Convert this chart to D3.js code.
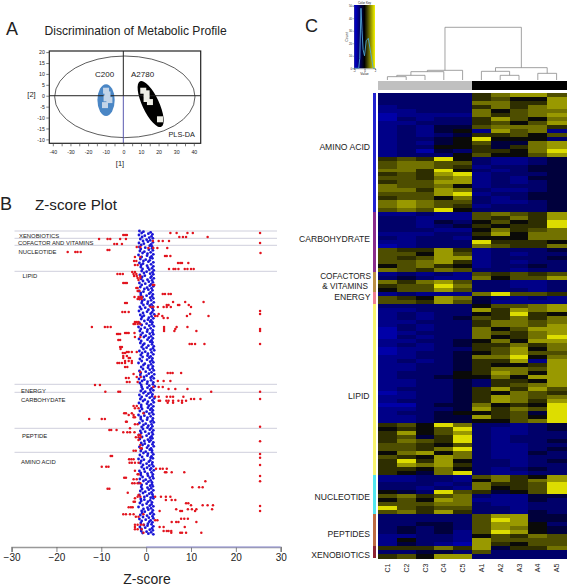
<!DOCTYPE html>
<html>
<head>
<meta charset="utf-8">
<script src="https://cdn.jsdelivr.net/npm/d3@7/dist/d3.min.js"></script>
<style>
html,body{margin:0;padding:0;background:#fff}
svg{display:block}
text{font-family:"Liberation Sans",Arial,sans-serif;fill:#222}
</style>
</head>
<body>
<div id="chart"></div>
<script>
// ---------- Panel A : PLS-DA scores
const plsXTicks = [-40,-30,-20,-10,0,10,20,30,40];
const plsYTicks = [20,15,10,5,0,-5,-10,-15,-20];
const plsYLabels = ["20","15","10","5","0","-5","-10","-15","-10"];
const hotelling = {x:0.85, y:-0.5, rx:39.8, ry:18.7};
const c200Ellipse = {x:-9.8, y:-2, rx:4.9, ry:7.3};
const a2780Ellipse = {x:15.5, y:-3.8, rx:4.75, ry:11.5, tilt:-25};
const c200Scores = [[-9.8,2.3],[-9,0.6],[-7.9,-2],[-10.4,-4.3],[-9.5,-1.2]];
const a2780Scores = [[11.3,2.3],[13.2,1.1],[13.2,-1.5],[15.1,-2.9],[20.8,-10.8]];

// ---------- Panel B : Z-scores  ([rank, z values])
const zTicks = [-30,-20,-10,0,10,20,30];
const zSeparators = [0,7.3,14.3,40.3,153.3,161.3,197.3,221.3];
const zClassLabels = ["XENOBIOTICS","COFACTOR AND VITAMINS","NUCLEOTIDE","LIPID","ENERGY","CARBOHYDATE","PEPTIDE","AMINO ACID"];
const redPoints = [
[2,[5.4,6.8,9.2,10.4,25.4]],[4,[-5.1,-4.7,-4.3]],[6,[7.4,8.2,8.9,13.7]],[8,[-10.5,-8.6,-8,-5.8,-4.5]],[10,[1.5,2.8,3.7,5.1]],[12,[25.4]],
[13,[-7.1,-6.5,-5.4]],[16,[-2.1,-1.3]],[17,[.5,1.6,2.5,4.7]],[19,[-8.6,-8.2]],[21,[-17.5,-15.8,-15.3,-14.6]],[22,[25.5]],[25,[4.2,4.6,5.4]],
[26,[-2.5,-1.3]],[30,[-2.7,-2.2]],[32,[7.1,7.6,8,9.4]],[34,[-2.5,-1.9]],[38,[5.1,6.1,6.5,7.2,8.6,9.2,10,10.6]],[41,[-3.1,-2.5]],
[43,[-6.4,-5.8,-5.2,-2.8,-2.2]],[45,[-2.7,-2.1,-1.3]],[47,[-1.9,-1.3]],[49,[-1.7]],[52,[-5.1,-4.7,-4.3]],[54,[1.5,1.8]],[57,[-2.2,-1.9]],
[60,[-1.9,-1.5]],[63,[3.7,4.2,5,5.5]],[66,[-2.6,-1.7,-1.3,-1]],[68,[-1.9,-1.5,-1]],[71,[6,8.7,12.8]],[72,[-4.7,-4.3]],[74,[4.6,5,7.1,7.4,9.5]],
[76,[1,1.6,2.6,3.9,4.6,5.5,10]],[80,[25.4]],[81,[-5.3,-4.7,-3.9]],[83,[2.8,9.8,25.4]],[85,[2,2.5,3.6,9.1,13.9]],[87,[3.9,4.8]],[91,[-2.5,-2.1,-1.7]],
[93,[-2.8,-2.5,-1.9,-1.3]],[96,[-12.1,-9.2,-8.6,-7.9,4,6.8,9.2]],[98,[4,6.5,25.4]],[100,[4,6.3,11.2,25.4]],[102,[-4.7,-4.3,-3.9,-2.6]],
[103,[-6.5,-6.2,-5.8]],[106,[-2.5,-1.3]],[109,[-5.8,-6.2]],[113,[9.7,10.2,10.9,13,25.4]],[116,[-5.8,-5.4]],[118,[-5.7]],[121,[-4.3,-3.9,-3.2,-2.1]],
[122,[-4.7,-5.2]],[125,[-5.1,-4.3]],[127,[-5.1,-3.9,-3.6]],[130,[-4.7,-3.9,-3.2]],[132,[-6.4,-6,-5.4,-4.7,-3.2]],[136,[-4.7,-4.2]],[141,[-1.3]],
[142,[4.8,5.4,5.9,7.8]],[143,[-2.8]],[146,[-2.1,-1.2]],[147,[-4.5,-3.9]],[150,[2.6,3.9,5.4]],[151,[-4.3,-3.7,-1.9]],[154,[-11.4,-10.3]],
[156,[1.6,2.8,3.7]],[158,[5,6.5,9.2]],[160.7,[-9.1,-6.2,-5.8,14.5,25.4]],[165.7,[2,2.8,4.6,5.4,6,8.3]],[168,[10,10.7,12.1,25.4]],
[169.7,[2.8,3.1,4.5,5,6,7.2,8,8.9]],[171.7,[4.8,6,8]],[175,[-2.8,-2.1]],[177.3,[-2.5,-1.7]],[182.3,[-4.9,-4.5,-3.2,-.6]],[184,[-3.9,-2.8]],
[186.3,[-2.8,-2.5]],[188,[-12.7,-9.9,-9.2]],[190.7,[-4.3,-4.5]],[193.3,[-2.5,-1.9]],[195.7,[25.4]],[197.3,[-3.6]],[199,[-8.2,-7.8,-6.6]],
[201.3,[-5.1,-4.2,-3.6,-2.6]],[204,[-1.7,-1.3]],[206.3,[-2.3,-1.7,-1.2]],[209,[-1.7]],[210.3,[25.4]],[214,[-1.3]],[217.3,[-1.3,-1]],[219.7,[-2.8,-2.3]],
[223,[25.4]],[225,[-7.9,-7.6]],[226.7,[25.4]],[228.3,[-3.8,-3.3,-2.8]],[231.7,[-3.7,-3.2,-2.5,-1.7]],[234,[25.4]],[235.7,[-9.9,-8.9,-8.4]],
[237.7,[2.2,3.1,3.7,4.6]],[239.7,[-2.5]],[241.3,[4.2,4.5,5.7,8.5]],[243.3,[-1.9,-1.7]],[245,[25.4]],[246.7,[-4.9,-4.5]],[248.3,[-2.8,-2.1]],
[250.3,[13.2,25.4]],[252.3,[-3.1,-2.6,-1.9,-1.3]],[256.3,[10.3,11.8,12.6]],[257.7,[-8.6,-8.2]],[261.7,[-4.1]],[264,[-1.7]],[265.7,[-1.9,-1.3,2,3.3,4.4,5.4]],
[267.3,[-2.5]],[269,[4.4,5.7,6.5]],[270.7,[-2.8,-2.5]],[272.3,[8.9,9.4]],[274.3,[10,12.6,13.7,14.9]],[275,[25.4]],[276.3,[-3.9,-3.4,-3]],
[278.3,[6.7,9.3,10.2,11.2,14.7]],[280,[3,7.6,8,10.9,25.4]],[283.3,[-5.1,-4.5,-3.6,-2.8,-.6]],[285.7,[-2.3,-1.7]],[287.7,[7.8,8.5,9.3]],[289.3,[2,2.5]],
[291,[5.7,6.7,7.2,11.2]],[293.7,[-2.5,-1.9,-1.2,-.6]],[296,[-2.5,3,3.9,8.6]],[298.3,[-2.5,-1.9,-1]],[300,[3.9,4.6,5,5.6]],[301.7,[-.6,5.6,7.6,8,8.9,12.3]]
];
// control-group metabolites, one row every 4 ranks
const blueRows = [
[-1.5,-1,-.6,.5,1,1.4],[-1.6,-.9,-.3,.7,1.2,1.5],[-1.3,-.7,.1,.4,.9,1.5],[-1.6,-1.1,-.5,.8,1.1,1.3],[-1.5,-1.2,-.2,.6,1.3,1.5],[-1.4,-.8,-.4,.3,1,1.6],
[-1.7,-1,.2,.9,1.2,1.4],[-1.3,-.6,-.1,.5,.8,1.6],[-1.5,-1.1,-.7,.2,1.1,1.6],[-1.2,-.8,.4,.7,1.3,1.7],[-1,-.5,.1,.9,1.4,1.6],[-1.4,-.9,-.3,1,1.2,1.7],
[-1.1,-.7,.3,.6,1.3,1.5],[-1.5,-1,-.2,.8,1.1,1.6],[-1.3,-.4,.2,.5,1.2,1.4],[-1.6,-1.2,-.6,.7,1,1.5],[-1.2,-.8,.1,.9,1.3,1.6],[-1.5,-.9,-.4,.4,1.1,1.7],
[-1,-.6,.3,.8,1.2,1.5],[-1.4,-1.1,-.2,.5,1.4,1.6],[-1.6,-.7,.2,1,1.3,1.8],[-1.3,-.9,-.5,.6,1.2,1.6],[-1.1,-.4,.4,.9,1.1,1.4],[-1.5,-1,.1,.7,1.3,1.7],
[-1.7,-1.2,-.3,.3,1,1.5],[-1.4,-.8,.2,.8,1.4,1.6],[-1.2,-.5,-.1,.6,1.1,1.5],[-1.6,-1.1,.3,.9,1.2,1.4],[-1.3,-.7,-.4,.5,1.3,1.7],[-1,-.6,.1,1,1.5,1.8],
[-1.5,-.9,-.2,.4,1.2,1.6],[-1.2,-.8,.3,.7,1,1.4],[-1.4,-1,.2,.9,1.3,1.6],[-1.7,-.6,-.3,.5,1.1,1.5],[-1.1,-.7,.4,.8,1.4,1.7],[-1.5,-1.2,-.1,.6,1.2,1.8],
[-1.3,-.5,.1,1,1.3,1.7],[-1.6,-.9,-.4,.3,1.1,1.6],[-1.4,-1.1,.2,.7,1.5,1.9],[-1,-.8,.3,.9,1.2,1.6],[-1.2,-.6,-.2,.5,1,1.4],[-1.5,-1,.1,.8,1.3,1.8],
[-1.3,-.7,-.3,.4,1.4,1.7],[-1.6,-1.1,.2,.6,1.1,1.6],[-1.1,-.9,.4,.9,1.2,1.5],[-1.4,-.5,.1,.7,1.3,1.6],[-1.7,-1.2,-.4,.3,1,1.5],[-1.2,-.8,.2,1,1.4,1.7],
[-1.5,-.6,-.1,.5,1.2,1.4],[-1,-.7,.3,.8,1.1,1.6],[-1.3,-1.1,-.2,.6,1.3,1.5],[-1.6,-.9,.1,.9,1.2,1.4],[-1.4,-.4,.4,.7,1,1.6],[-1.1,-.8,-.3,.5,1.4,1.7],
[-1.5,-1,.2,.8,1.1,1.3],[-1.2,-.6,-.1,.4,1.3,1.6],[-1.4,-.9,.3,1,1.2,1.5],[-1.7,-1.1,-.5,.6,.9,1.4],[-1.3,-.7,.1,.7,1.3,1.6],[-1,-.5,.2,.9,1.1,1.7],
[-1.5,-1.2,-.3,.3,1.2,1.5],[-1.2,-.8,.4,.8,1.4,1.6],[-1.4,-.6,-.1,.5,1,1.3],[-1.6,-1,.1,.9,1.3,1.5],[-1.1,-.9,.3,.6,1.1,1.6],[-1.3,-.7,-.2,.7,1.2,1.4],
[-1.5,-.4,.2,1,1.5,1.6],[-1.2,-1.1,-.4,.4,.9,1.3],[-1.4,-.8,.1,.8,1.2,1.6],[-1.7,-.6,.3,.5,1.1,1.5],[-1,-.9,-.3,.9,1.3,1.7],[-1.3,-.7,.2,.6,1.4,1.6],
[-1.5,-1,-.1,.7,1,1.4],[-1.2,-.5,.4,.3,1.2,1.6],[-1.4,-1.1,-.2,.8,1.3,1.5],[-1.1,-.8,.1,.5,1.1,1.6]
];

// ---------- Panel C : heat map (0 blue, 4 black, 9 yellow; C1..C5 A1..A5)
const heatColumns = ["C1","C2","C3","C4","C5","A1","A2","A3","A4","A5"];
const aminoRows = ["2222257886","2222256448","2222277558","1222257578","1122274677",
"0111175678","0212258647","1122256468","1213367775","1213418671","1212355646","1223494442","1213463378","1224453578","1203255479",
"1222464468","5659421123","6776621123","6776512233","7759421233","5658912223","6657812133","5668812123","7667412223",
"7758721123","6668912233","5664721233","7876621123","7876512223","6769422223"];
const carbRows = ["1121167658","2211165758","2213246459","2212354559","2221147567",
"1112258477","2122144477","1122295554","0122276557","6558512223","6648612122","6568812223","6678512122","4675412232","7657622122"];
const cofRows = ["1212165656","2321174668","7578622112","5669722112","4668622212"];
const energyRows = ["1211179665","6548732121","6658631111"];
const lipidRows = ["2222246678","1122285878","1212245954","1212365757","1122257767",
"1212257768","0212274688","0122276578","0212274579","1122347488","1212355757","0112256847","0122346866","1122377947","1212355818",
"1122354458","1122357768","1222458748","1223447488","1122325548","1122325678","1222358586","0122354765","1122358767","1222358758",
"0023374549","1122385769","1223445639","1123385649","1123344679",
"5649722123","4546921123","5846821122","5635921222","5765921223","6654621122","6657921123","4784721132","6548721122","5958422123",
"5878522122","5547421232","5437921122"];
const nucRows = ["1122167548","1122147578","2221275569","2212174569","4329653469",
"6756721133","4648711132","6667721122","9656622122","6758522132"];
const pepRows = ["2222268833","2222269833","2233268842","2323268743","2323169843","1122146576","1422186666","1321085466"];
const xenoRows = ["5557583557","2233262222","5648822222"];
const heatGroups = [
 {name:"amino", rows:aminoRows, color:"#2222d0"},
 {name:"carb", rows:carbRows, color:"#8a2c8c"},
 {name:"cof", rows:cofRows, color:"#bb8f45"},
 {name:"energy", rows:energyRows, color:"#ef7f90"},
 {name:"lipid", rows:lipidRows, color:"#f9f46c"},
 {name:"nuc", rows:nucRows, color:"#52e6ef"},
 {name:"pep", rows:pepRows, color:"#bd6b42"},
 {name:"xeno", rows:xenoRows, color:"#8e2333"}
];
const heatTree = {h:158, children:[
 {h:29, children:[
  {h:25, children:[
   {h:14, children:[
    {h:10, children:[{name:"C1",h:0},{name:"C2",h:0}]},
    {name:"C3",h:0}]},
   {name:"C4",h:0}]},
  {name:"C5",h:0}]},
 {h:37, children:[
  {h:26, children:[{name:"A1",h:0},{h:14, children:[{name:"A2",h:0},{name:"A3",h:0}]}]},
  {h:20, children:[{name:"A4",h:0},{name:"A5",h:0}]}]}
]};
const keyHistogram = [[-2,0],[-1.1,0],[-.9,8],[-.67,48],[-.47,30],[-.27,15],[0,10],[.33,22],[.73,24],[1.2,12],[1.67,0],[2,0]];
const keyValueTicks = [-2,0,2];
const keyCountTicks = [0,10,20,30,40,50];

// ---------- drawing
const svg = d3.select("#chart").append("svg").attr("width",567).attr("height",587);
const txt = (s,x,y,size,anchor="start",g=svg)=>g.append("text").attr("x",x).attr("y",y).attr("font-size",size).attr("text-anchor",anchor).text(s);

// Panel A
txt("A",6,35,18);
txt("Discrimination of Metabolic Profile",44.5,35,12.1);
const ax = d3.scaleLinear().domain([-42,43.9]).range([49.3,200.7]);
const ay = d3.scaleLinear().domain([20.5,-21.8]).range([51,143.3]);
const a = svg.append("g");
a.append("ellipse").attr("cx",ax(c200Ellipse.x)).attr("cy",ay(c200Ellipse.y))
 .attr("rx",ax(c200Ellipse.rx)-ax(0)).attr("ry",ay(0)-ay(c200Ellipse.ry)).attr("fill","#4a86c5");
a.append("ellipse").attr("cx",0).attr("cy",0)
 .attr("rx",ax(a2780Ellipse.rx)-ax(0)).attr("ry",ay(0)-ay(a2780Ellipse.ry)).attr("fill","#000")
 .attr("transform",`translate(${ax(a2780Ellipse.x)},${ay(a2780Ellipse.y)}) rotate(${a2780Ellipse.tilt})`);
a.append("ellipse").attr("cx",ax(hotelling.x)).attr("cy",ay(hotelling.y))
 .attr("rx",ax(hotelling.rx)-ax(0)).attr("ry",ay(0)-ay(hotelling.ry)).attr("fill","none").attr("stroke","#333").attr("stroke-width",.8);
a.append("line").attr("x1",ax(0)).attr("x2",ax(0)).attr("y1",51).attr("y2",ay(0)).attr("stroke","#222");
a.append("line").attr("x1",ax(0)).attr("x2",ax(0)).attr("y1",ay(0)).attr("y2",143).attr("stroke","#5a5ab0");
a.append("line").attr("x1",49).attr("x2",201).attr("y1",ay(0)).attr("y2",ay(0)).attr("stroke","#222");
a.selectAll(".c").data(c200Scores).join("rect").attr("width",6).attr("height",6).attr("fill","#c3d4e8")
 .attr("x",d=>ax(d[0])-3).attr("y",d=>ay(d[1])-3);
a.selectAll(".a").data(a2780Scores).join("rect").attr("width",6).attr("height",6).attr("fill","#eeeee6")
 .attr("x",d=>ax(d[0])-3).attr("y",d=>ay(d[1])-3);
a.append("rect").attr("x",49.3).attr("y",51).attr("width",151.4).attr("height",92.3).attr("fill","none").attr("stroke","#222").attr("stroke-width",1.2);
const axb = a.append("g").attr("transform","translate(0,143.3)")
 .call(d3.axisBottom(ax).tickValues(d3.range(-40,41,5)).tickSize(3).tickPadding(4).tickFormat(d=>plsXTicks.includes(d)?d:""));
const ayl = a.append("g").attr("transform","translate(49.3,0)")
 .call(d3.axisLeft(ay).tickValues(plsYTicks).tickSize(3).tickPadding(1.5).tickFormat((d,i)=>plsYLabels[i]));
[axb,ayl].forEach(g=>{g.select(".domain").remove();g.selectAll("text").attr("font-size",5.2).attr("fill","#333");g.selectAll("line").attr("stroke","#444").attr("stroke-width",.7);});
txt("C200",95,77,8,"start");
txt("A2780",131,77,8,"start");
txt("PLS-DA",168.5,137,7.3,"start");
txt("[1]",120,165.5,7.5,"middle");
txt("[2]",31.5,97,7.5,"middle");

// Panel B
txt("B",0,210,18);
txt("Z-score Plot",35,210,15.2);
const zx = d3.scaleLinear().domain([-30,30]).range([11.6,280.7]);
const zy = d3.scaleLinear().domain([0,305]).range([231,536]);
const b = svg.append("g");
b.selectAll(".sep").data(zSeparators).join("line").attr("x1",14.5).attr("x2",277)
 .attr("y1",d=>zy(d)).attr("y2",d=>zy(d)).attr("stroke","#cfcfdc").attr("stroke-width",1);
const zLabelPos = [[19,237.5],[18,244.5],[18.5,253.5],[22.5,278],[21,392.5],[21,401.5],[22,438],[21,463.5]];
zClassLabels.forEach((s,i)=>txt(s,zLabelPos[i][0],zLabelPos[i][1],5.9,"start",b));
const spread = [0,3,1,4,2,5];
b.append("g").selectAll("circle").data(blueRows.flatMap((row,i)=>row.map((z,j)=>[i*4+spread[j]*.66,z]))).join("circle")
 .attr("cx",d=>zx(d[1])).attr("cy",d=>zy(d[0])).attr("r",1.4).attr("fill","#1a16d6");
b.append("g").selectAll("circle").data(redPoints.flatMap(([r,zs])=>zs.map(z=>[r,z]))).join("circle")
 .attr("cx",d=>zx(d[1])).attr("cy",d=>zy(d[0])).attr("r",1.25).attr("fill","#e2141e");
const zAxis = b.append("g").attr("transform","translate(0,547)")
 .call(d3.axisBottom(zx).tickValues(zTicks).tickSize(5).tickPadding(2).tickFormat(d=>d<0?"\u2212"+(-d):d));
zAxis.select(".domain").attr("stroke","#999").attr("stroke-width",1.6);
zAxis.selectAll("line").attr("stroke","#666").attr("stroke-width",.8);
zAxis.selectAll("text").attr("font-size",10).attr("fill","#333");
b.append("line").attr("x1",zx(0)).attr("x2",zx(30)).attr("y1",547).attr("y2",547).attr("stroke","#9a9ae0").attr("stroke-width",1.2);
txt("Z-score",147,583.5,14,"middle");

// Panel C
txt("C",305,32,18);
const hx = d3.scaleBand().domain(heatColumns).range([378,566]);
const allRows = heatGroups.flatMap(g=>g.rows);
const hy = d3.scaleBand().domain(d3.range(allRows.length)).range([93,558]);
const heatColor = d3.scaleLinear().domain([0,1,2,3,4,5,6,7,8,9])
 .range(["#0000a8","#000088","#00006a","#00003c","#0a0a08","#2e2e00","#4e4e00","#727200","#999900","#dddd00"]).clamp(true);
const c = svg.append("g").attr("shape-rendering","crispEdges");
allRows.forEach((row,i)=>{
  c.append("g").selectAll("rect").data(heatColumns.map((col,j)=>({col,v:+row[j]}))).join("rect")
   .attr("x",d=>hx(d.col)).attr("y",hy(i)).attr("width",hx.bandwidth()+.5).attr("height",hy.bandwidth()+.5)
   .attr("fill",d=>heatColor(d.v));
});
let start=0;
heatGroups.forEach(g=>{
  c.append("rect").attr("x",373).attr("y",hy(start)).attr("width",3.2).attr("height",hy.step()*g.rows.length).attr("fill",g.color);
  start+=g.rows.length;
});
c.selectAll(".colbar").data(heatColumns).join("rect").attr("x",d=>hx(d)).attr("y",81).attr("width",hx.bandwidth()+.5).attr("height",9)
 .attr("fill",d=>d[0]==="C"?"#c0c0c0":"#000");
const t = svg.append("g");
t.selectAll(".collab").data(heatColumns).join("text").attr("font-size",7).attr("text-anchor","middle")
 .attr("transform",d=>`translate(${hx(d)+hx.bandwidth()/2+2.5},568) rotate(-90)`).text(d=>d);
[["AMINO ACID",370,149.5,8.6],["CARBOHYDRATE",370,241.7,8.6],["COFACTORS",371,279,8.2],["& VITAMINS",368,288.5,8.2],["ENERGY",370.5,300,8.6],
 ["LIPID",369.5,399,8.6],["NUCLEOTIDE",370,500,8.6],["PEPTIDES",370,537,8.6],["XENOBIOTICS",370,558,8.6]]
 .forEach(d=>txt(d[0],d[1],d[2],d[3],"end",t));
// dendrogram
const root = d3.hierarchy(heatTree);
const dy = d3.scaleLinear().domain([0,158]).range([80,27.3]);
root.eachAfter(n=>{ n.px = n.children ? d3.mean(n.children,k=>k.px) : hx(n.data.name)+hx.bandwidth()/2; });
root.each(n=>{ if(n.children){
  const x0=n.children[0].px,x1=n.children[1].px,h=dy(n.data.h);
  t.append("path").attr("fill","none").attr("stroke","#8a8a8a").attr("stroke-width",.8)
   .attr("d",`M${x0},${dy(n.children[0].data.h)}V${h}H${x1}V${dy(n.children[1].data.h)}`);
}});
// colour key
const kx = d3.scaleLinear().domain([-2,2]).range([354,375]);
const ky = d3.scaleLinear().domain([0,50]).range([68.3,5.7]);
const defs = svg.append("defs");
const grad = defs.append("linearGradient").attr("id","key");
[[0,"#0000e0"],[.5,"#000"],[1,"#f4f400"]].forEach(s=>grad.append("stop").attr("offset",s[0]).attr("stop-color",s[1]));
t.append("rect").attr("x",354).attr("y",5).attr("width",21).attr("height",63.3).attr("fill","url(#key)");
t.append("path").attr("fill","none").attr("stroke","#4fa6d6").attr("stroke-width",.9)
 .attr("d",d3.line().x(d=>kx(d[0])).y(d=>ky(d[1]))(keyHistogram));
const kb = t.append("g").attr("transform","translate(0,68.3)").call(d3.axisBottom(kx).tickValues(keyValueTicks).tickSize(1.5).tickPadding(0).tickFormat(d=>d));
const kl = t.append("g").attr("transform","translate(354,0)").call(d3.axisLeft(ky).tickValues(keyCountTicks).tickSize(1.5).tickPadding(.5));
[kb,kl].forEach(g=>{g.select(".domain").attr("stroke","#555").attr("stroke-width",.4);g.selectAll("line").attr("stroke","#555").attr("stroke-width",.4);g.selectAll("text").attr("font-size",2.8).attr("fill","#333");});
txt("Color Key",364.5,3.5,3,"middle",t);
txt("Value",364.5,75,3.4,"middle",t);
t.append("text").attr("font-size",3.6).attr("text-anchor","middle").attr("transform","translate(348,37) rotate(-90)").text("Count");
</script>
</body>
</html>
